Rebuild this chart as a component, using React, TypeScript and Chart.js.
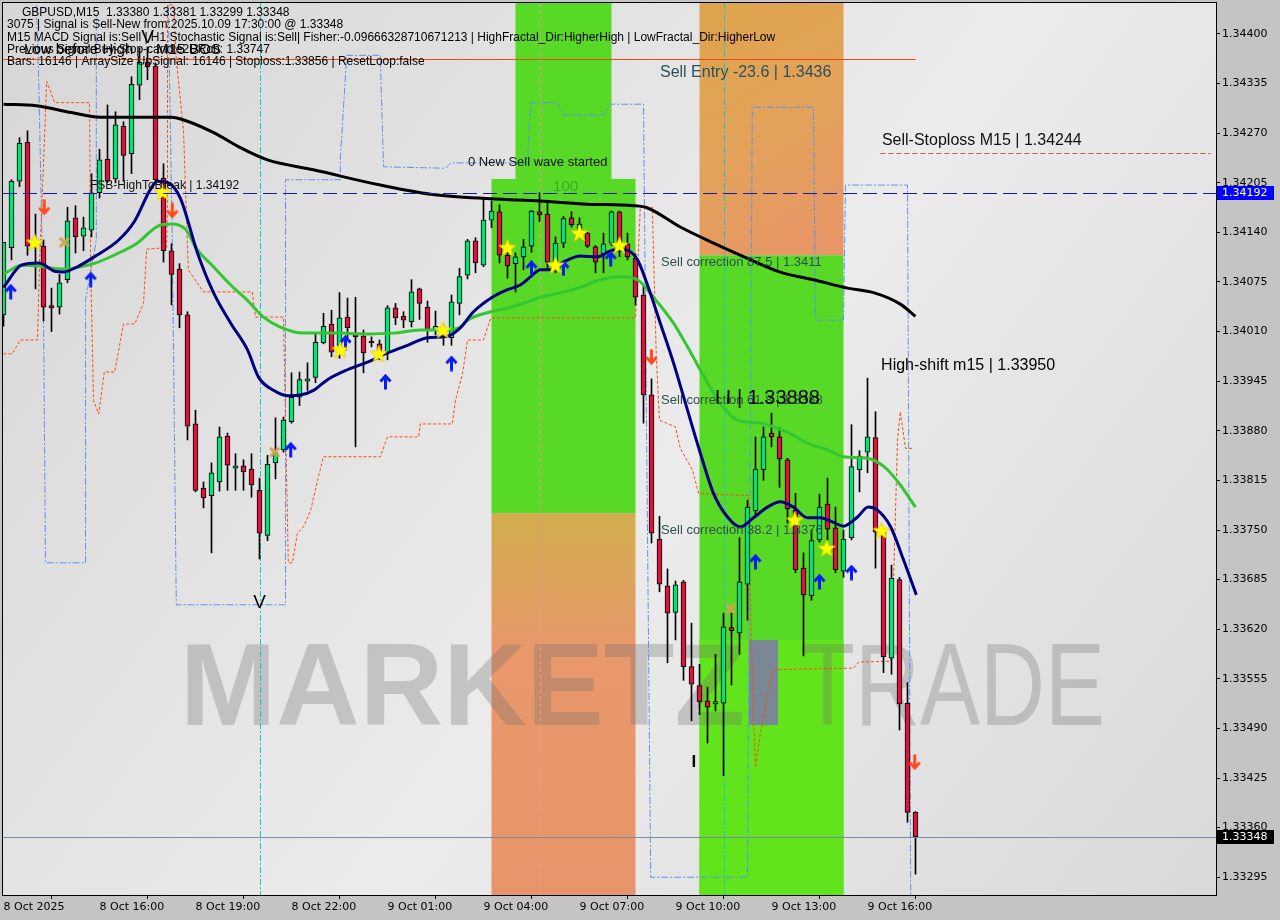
import React, { useEffect, useRef } from "react";
import { Chart, registerables } from "chart.js";

Chart.register(...registerables);

// ---------------- axes ----------------
const timeLabels = ["8 Oct 2025", "8 Oct 16:00", "8 Oct 19:00", "8 Oct 22:00", "9 Oct 01:00", "9 Oct 04:00", "9 Oct 07:00", "9 Oct 10:00", "9 Oct 13:00", "9 Oct 16:00"];
const timeTickBars = [0, 12, 24, 36, 48, 60, 72, 84, 96, 108];
const priceTicks = [1.344, 1.34335, 1.3427, 1.34205, 1.3414, 1.34075, 1.3401, 1.33945, 1.3388, 1.33815, 1.3375, 1.33685, 1.3362, 1.33555, 1.3349, 1.33425, 1.3336, 1.33295];
const Y_MIN = 1.332717;
const Y_MAX = 1.344406;
const X_MIN = -0.0625;
const X_MAX = 151.5625;

// ---------------- candles (M15, bar 0 = 8 Oct 13:00) ----------------
const opens = [
  1.34032, 1.3412, 1.34207, 1.34258, 1.34123, 1.34122, 1.34044, 1.34042, 1.34078, 1.34159,
  1.34135, 1.34143, 1.34192, 1.34236, 1.3421, 1.34279, 1.34243, 1.34333, 1.34363, 1.34358,
  1.34211, 1.34116, 1.34092, 1.34032, 1.33889, 1.33805, 1.33795, 1.33813, 1.33873, 1.33831,
  1.33834, 1.3383, 1.33802, 1.33743, 1.33838, 1.33855, 1.33892, 1.33924, 1.33945, 1.3395,
  1.33995, 1.3402, 1.33992, 1.34029, 1.34006, 1.34004, 1.33996, 1.33994, 1.33982, 1.34041,
  1.3403, 1.34023, 1.34066, 1.34042, 1.34012, 1.34012, 1.34002, 1.34047, 1.34084, 1.34129,
  1.34097, 1.34156, 1.34167, 1.3411, 1.34099, 1.34108, 1.34122, 1.34167, 1.34164, 1.34101,
  1.34126, 1.34159, 1.3414, 1.34139, 1.34121, 1.34112, 1.34126, 1.34167, 1.34125, 1.34106,
  1.34058, 1.33927, 1.33738, 1.33677, 1.33642, 1.33682, 1.33571, 1.33546, 1.33526, 1.33522,
  1.33523, 1.33622, 1.33615, 1.33679, 1.33775, 1.33829, 1.33877, 1.33872, 1.33842, 1.33776,
  1.337, 1.33664, 1.33737, 1.33784, 1.33753, 1.33696, 1.3374, 1.33829, 1.33852, 1.33871,
  1.33747, 1.33582, 1.33685, 1.33523, 1.3338,
];
const highs = [
  1.34127, 1.34209, 1.34264, 1.34273, 1.34164, 1.3413, 1.34067, 1.34085, 1.34173, 1.34175,
  1.3416, 1.34217, 1.34249, 1.34307, 1.34298, 1.34285, 1.34344, 1.34382, 1.34383, 1.34362,
  1.3423, 1.34125, 1.34099, 1.34036, 1.33907, 1.33813, 1.33838, 1.33885, 1.33877, 1.3385,
  1.33842, 1.3385, 1.33818, 1.33848, 1.33897, 1.33898, 1.33956, 1.33957, 1.33969, 1.34008,
  1.34034, 1.34038, 1.34061, 1.34054, 1.34055, 1.34012, 1.34003, 1.33999, 1.34044, 1.34047,
  1.34036, 1.34078, 1.34067, 1.3405, 1.34037, 1.34019, 1.34058, 1.34093, 1.34131, 1.34133,
  1.34186, 1.34181, 1.34176, 1.34127, 1.34113, 1.34131, 1.34169, 1.34192, 1.34182, 1.34134,
  1.34161, 1.34167, 1.34159, 1.3414, 1.34123, 1.34139, 1.34168, 1.34168, 1.34139, 1.34112,
  1.34071, 1.33948, 1.33768, 1.33699, 1.33683, 1.33684, 1.33628, 1.33574, 1.33544, 1.33587,
  1.33641, 1.33641, 1.3374, 1.33789, 1.33872, 1.33885, 1.33903, 1.33884, 1.33844, 1.33798,
  1.3372, 1.3375, 1.33797, 1.33818, 1.3378, 1.3375, 1.33888, 1.33854, 1.33949, 1.33905,
  1.3375, 1.33704, 1.33688, 1.3355, 1.33381,
];
const lows = [
  1.34017, 1.34104, 1.342, 1.3411, 1.34066, 1.34024, 1.3401, 1.34033, 1.34074, 1.34113,
  1.34116, 1.34134, 1.34185, 1.34205, 1.34205, 1.34207, 1.34217, 1.34314, 1.3434, 1.34205,
  1.34101, 1.34045, 1.34015, 1.33868, 1.338, 1.33779, 1.3372, 1.33801, 1.33802, 1.33802,
  1.33802, 1.33793, 1.33712, 1.33736, 1.33817, 1.33852, 1.3389, 1.33913, 1.33933, 1.33943,
  1.33994, 1.33977, 1.33975, 1.34002, 1.33859, 1.33956, 1.3399, 1.33973, 1.33973, 1.34019,
  1.34015, 1.34016, 1.34026, 1.33996, 1.34006, 1.33992, 1.33992, 1.34032, 1.34079, 1.34087,
  1.34095, 1.34146, 1.341, 1.3408, 1.34062, 1.34091, 1.34114, 1.34154, 1.34091, 1.34087,
  1.3412, 1.34147, 1.34133, 1.3412, 1.34087, 1.34087, 1.34123, 1.34108, 1.34104, 1.34045,
  1.3389, 1.33733, 1.33669, 1.33576, 1.33606, 1.33553, 1.335, 1.33508, 1.33471, 1.33513,
  1.33428, 1.33547, 1.33587, 1.33632, 1.33767, 1.33815, 1.33859, 1.33806, 1.33759, 1.33694,
  1.33585, 1.33658, 1.33734, 1.33737, 1.33694, 1.33688, 1.33737, 1.338, 1.33825, 1.337,
  1.33563, 1.33561, 1.33488, 1.33367, 1.33299,
];
const closes = [
  1.34127, 1.34207, 1.34257, 1.34122, 1.3413, 1.34042, 1.34041, 1.34074, 1.34155, 1.34134,
  1.34146, 1.34192, 1.34235, 1.34207, 1.34281, 1.34241, 1.34334, 1.34363, 1.34357, 1.34209,
  1.34116, 1.34085, 1.34032, 1.33886, 1.33802, 1.33792, 1.33825, 1.33872, 1.33835, 1.33834,
  1.33826, 1.33809, 1.33746, 1.33836, 1.33851, 1.33894, 1.33924, 1.33947, 1.33948, 1.33996,
  1.34017, 1.33983, 1.34028, 1.34015, 1.34003, 1.33982, 1.33995, 1.33983, 1.34041, 1.34028,
  1.34025, 1.34062, 1.34047, 1.34013, 1.34017, 1.34003, 1.34049, 1.34082, 1.34129, 1.341,
  1.34156, 1.34168, 1.3411, 1.34096, 1.34108, 1.34121, 1.34168, 1.34163, 1.34101, 1.34126,
  1.34158, 1.3415, 1.34151, 1.34122, 1.34101, 1.34125, 1.34167, 1.3412, 1.34108, 1.34055,
  1.33927, 1.33746, 1.33679, 1.33641, 1.33678, 1.33571, 1.33548, 1.33525, 1.33518, 1.33525,
  1.33623, 1.33618, 1.33682, 1.3378, 1.3383, 1.33872, 1.33872, 1.33843, 1.33778, 1.33698,
  1.33665, 1.33736, 1.3378, 1.33751, 1.33698, 1.33738, 1.33833, 1.33847, 1.33872, 1.33747,
  1.33584, 1.33687, 1.33522, 1.3338, 1.33348,
];

// ---------------- indicator lines: [bar, price] ----------------
const maSlow = [
  [0, 1.34308], [4.1, 1.34306], [8.5, 1.34297], [12.1, 1.34291], [17.5, 1.34291], [21, 1.34291],
  [22.9, 1.34286], [26.4, 1.3427], [29.6, 1.34251], [33, 1.34235], [38.75, 1.34222], [47.1, 1.34202],
  [53.4, 1.3419], [60.9, 1.34184], [67.1, 1.34181], [73, 1.34177], [78.75, 1.34175], [80.5, 1.34172],
  [84.6, 1.34147], [88.75, 1.34126], [93, 1.34106], [97.1, 1.34088], [101.25, 1.34078], [105.5, 1.34067],
  [108.75, 1.34061], [112.1, 1.34046], [114, 1.3403],
];
const maFast = [
  [0, 1.34068], [2.25, 1.34097], [4.4, 1.341], [6.4, 1.34089], [7.4, 1.34088], [9.25, 1.34095],
  [11.5, 1.34109], [14.4, 1.3413], [16.4, 1.34155], [18.4, 1.34197], [19.25, 1.34207], [20.6, 1.34205],
  [22.1, 1.34185], [24.25, 1.34113], [26.25, 1.34061], [28.4, 1.34021], [30.5, 1.33986], [31.9, 1.3395],
  [33.75, 1.33933], [35.5, 1.33926], [37.1, 1.33927], [38.75, 1.33933], [40.5, 1.33947], [43, 1.3396],
  [45.5, 1.3397], [48, 1.33982], [50.5, 1.33992], [53, 1.34002], [55.5, 1.34004], [57.1, 1.34015],
  [58.75, 1.34036], [61.1, 1.34055], [63, 1.34065], [64.6, 1.34071], [65.9, 1.34082], [67.1, 1.34091],
  [68.4, 1.34091], [70, 1.34101], [72.1, 1.34109], [74.25, 1.34108], [76.25, 1.34117], [77.75, 1.34117],
  [79.25, 1.34104], [80.5, 1.34071], [82.1, 1.34021], [83.75, 1.33969], [85.5, 1.33907], [87.1, 1.33851],
  [88.75, 1.33798], [90.5, 1.33767], [92.1, 1.33754], [93.75, 1.33766], [95.5, 1.3378], [97.1, 1.33787],
  [98.75, 1.3378], [100.5, 1.33766], [102.1, 1.33766], [103.75, 1.3376], [105, 1.33755], [106.75, 1.33767],
  [108.1, 1.3378], [109.25, 1.33776], [110.9, 1.33754], [112.5, 1.33711], [114.1, 1.33665],
];
const maMid = [
  [0, 1.34085], [2.25, 1.34097], [4.4, 1.34096], [7.4, 1.34092], [11.25, 1.34099], [14.4, 1.34113],
  [16.6, 1.34125], [19.25, 1.34148], [21, 1.34151], [22.75, 1.34144], [24.25, 1.34117], [26.25, 1.34095],
  [28.4, 1.34071], [30.5, 1.34051], [32.5, 1.34029], [34.6, 1.34016], [37.5, 1.34008], [40.9, 1.34008],
  [45.5, 1.34007], [48.75, 1.34008], [52.1, 1.34012], [55, 1.34012], [57.1, 1.34016], [58, 1.34025],
  [60.9, 1.34036], [63, 1.34041], [65.5, 1.34049], [67.1, 1.34055], [69.6, 1.34061], [72.1, 1.34068],
  [74.6, 1.34078], [77.1, 1.34082], [79.25, 1.34078], [81.25, 1.34055], [83.75, 1.34021], [85.5, 1.3399],
  [88, 1.33943], [89.6, 1.33916], [91.75, 1.33894], [94.6, 1.3389], [98, 1.33878], [100.5, 1.33864],
  [103, 1.33855], [105, 1.33846], [108, 1.33844], [109.25, 1.33839], [110.5, 1.33829], [112.1, 1.33809],
  [114, 1.3378],
];
const stepLine = [
  [0, 1.33981], [1.1, 1.33981], [2.1, 1.33999], [4.25, 1.33999], [4.5, 1.34099], [5, 1.3423], [5.4, 1.34338],
  [6.4, 1.3431], [10.75, 1.3431], [10.9, 1.34095], [11.25, 1.3392], [11.9, 1.33902], [12.6, 1.33957],
  [13.9, 1.33957], [15, 1.3402], [16.4, 1.3402], [17.5, 1.34047], [17.9, 1.34118], [20.4, 1.3412],
  [20.5, 1.34184], [20.5, 1.34438], [21.25, 1.34438], [21.6, 1.34366], [22.5, 1.34274], [23.1, 1.34091],
  [25, 1.34062], [31.1, 1.34062], [31.5, 1.34029], [35, 1.34029], [35.6, 1.33707], [36.1, 1.33707],
  [36.75, 1.33746], [37.5, 1.33754], [38.4, 1.33776], [39.25, 1.33815], [40, 1.33846], [47.1, 1.33846],
  [48, 1.33872], [51.9, 1.33872], [52.1, 1.33889], [56.1, 1.33889], [56.5, 1.3392], [57.4, 1.33956],
  [58, 1.33999], [60, 1.33999], [60.9, 1.34028], [79, 1.34028], [79.6, 1.34173], [81.1, 1.34173],
  [81.6, 1.33977], [82, 1.33894], [84, 1.33885], [84.6, 1.33857], [86.1, 1.33829], [86.9, 1.33798],
  [93.1, 1.33795], [93.4, 1.33636], [93.75, 1.33505], [94, 1.33439], [94.6, 1.33484], [95.25, 1.33518],
  [96.1, 1.33567], [106.25, 1.33569], [106.9, 1.33577], [110.9, 1.33578], [111.25, 1.33681],
  [111.75, 1.33868], [112.1, 1.33905], [112.75, 1.33857], [113.6, 1.33857],
];
const channelLeft = [
  [4.1, 1.34438], [4.4, 1.3434], [5, 1.34038], [5.25, 1.33707], [10.25, 1.33707], [10.25, 1.34051],
  [11.6, 1.3413], [11.6, 1.34425],
];
const channelMain = [
  [20.6, 1.34438], [21.1, 1.3413], [21.6, 1.33652], [35.25, 1.33652], [35.25, 1.34209], [42.1, 1.34209],
  [42.1, 1.34235], [42.9, 1.34372], [47.1, 1.34372], [47.5, 1.34226], [55.25, 1.34224], [55.9, 1.34231],
  [65.5, 1.34231], [65.9, 1.3431], [69.1, 1.3431], [70, 1.34294], [75, 1.34294], [76, 1.34308],
  [80, 1.34308], [80.9, 1.33295], [93, 1.33295], [93.6, 1.34304], [101.25, 1.34304], [101.5, 1.34025],
  [105, 1.34025], [105.25, 1.34202], [113, 1.34202], [113.4, 1.33272],
];

// ---------------- signal markers: [bar, price] ----------------
const starMarks = [
  [3.9, 1.34127], [19.9, 1.34193], [42.1, 1.33986], [46.9, 1.33981], [54.9, 1.34012], [63, 1.3412],
  [69, 1.34097], [72, 1.34139], [77, 1.34123], [98.9, 1.33763], [102.9, 1.33726], [109.75, 1.33749],
];
const upArrows = [
  [0.9, 1.34062], [10.9, 1.34078], [35.9, 1.33855], [42.75, 1.33995], [47.75, 1.33944], [56, 1.33968],
  [66, 1.34093], [70, 1.34093], [75.9, 1.34105], [94, 1.33708], [102, 1.33682], [106, 1.33694],
];
const downArrows = [[5.1, 1.34173], [21.1, 1.34169], [81, 1.33977], [113.9, 1.33446]];
const crossMarks = [[7.6, 1.34127], [33.9, 1.33852], [90.9, 1.33647]];

// ---------------- zones: [barFrom, barTo, priceLow, priceHigh] ----------------
const zoneBuyTop = [64, 76, 1.3421, 1.345];
const zoneBuyMain = [61, 79, 1.33772, 1.3421];
const zoneSellLow = [61, 79, 1.332, 1.33772];
const zoneSellTop = [87, 105, 1.3411, 1.345];
const zoneBuyRight = [87, 105, 1.332, 1.3411];
const zoneBuyRightLow = [87, 105, 1.332, 1.33606];

// ---------------- levels ----------------
const sellEntryLevel = 1.34367;
const stoplossLevel = 1.34244;
const fsbLevel = 1.34192;
const lastPrice = 1.33348;
const timeMarkers = [32, 90];
const centerMarker = 67;

// ---------------- chart texts: [bar, price] ----------------
const chartTexts = [
  { t: "0 New Sell wave started", i: 58.06, p: 1.34232, f: "13px 'Liberation Sans'", c: "#111" },
  { t: "FSB-HighToBreak | 1.34192", i: 10.8, p: 1.34201, f: "12px 'Liberation Sans'", c: "#111" },
  { t: "Sell Entry -23.6 | 1.3436", i: 82.06, p: 1.34349, f: "16px 'Liberation Sans'", c: "#2f4f5f" },
  { t: "Sell-Stoploss M15 | 1.34244", i: 109.8, p: 1.3426, f: "16px 'Liberation Sans'", c: "#111" },
  { t: "Sell correction 87.5 | 1.3411", i: 82.2, p: 1.341, f: "13px 'Liberation Sans'", c: "#2f4f4f" },
  { t: "Sell correction 61.8 | 1.3388", i: 82.2, p: 1.3392, f: "13px 'Liberation Sans'", c: "#2f4f4f" },
  { t: "Sell correction 38.2 | 1.3376", i: 82.2, p: 1.3375, f: "13px 'Liberation Sans'", c: "#2f4f4f" },
  { t: "I I | 1.33888", i: 88.9, p: 1.33923, f: "20px 'Liberation Sans'", c: "#000" },
  { t: "High-shift m15 | 1.33950", i: 109.7, p: 1.33966, f: "16px 'Liberation Sans'", c: "#000" },
  { t: "100", i: 68.7, p: 1.342, f: "15px 'Liberation Sans'", c: "rgba(40,150,40,0.65)" },
  { t: "I", i: 86.0, p: 1.33445, f: "bold 17px 'Liberation Sans'", c: "#000" },
];
const swingMarks = [[32, 1.33654], [18, 1.34395]];

const headerLines = [
  "3075 | Signal is Sell-New from:2025.10.09 17:30:00 @ 1.33348",
  "M15 MACD Signal is:Sell | H1 Stochastic Signal is:Sell| Fisher:-0.09666328710671213 | HighFractal_Dir:HigherHigh | LowFractal_Dir:HigherLow",
  "Previous Signal:Buy-Stop-candle2DRob: 1.33747",
  "Bars: 16146 | ArraySize UpSignal: 16146 | Stoploss:1.33856 | ResetLoop:false",
];
const headerTitle = "GBPUSD,M15  1.33380 1.33381 1.33299 1.33348";

const BULL = "#00e676";
const BEAR = "#dc143c";

function makeIcon(w: number, h: number, draw: (g: CanvasRenderingContext2D) => void) {
  const c = document.createElement("canvas");
  c.width = w;
  c.height = h;
  const g = c.getContext("2d") as CanvasRenderingContext2D;
  draw(g);
  return c;
}

const pts = (arr: number[][]) => arr.map(([x, y]) => ({ x, y }));

const mt4Plugin = {
  id: "mt4look",
  beforeDraw(chart: any) {
    const { ctx, chartArea: a, scales } = chart;
    const xs = scales.x;
    const ys = scales.y;
    ctx.save();
    ctx.fillStyle = "#c4c4c4";
    ctx.fillRect(0, 0, chart.width, chart.height);
    const bg = ctx.createLinearGradient(a.left, a.top, a.right, a.bottom);
    bg.addColorStop(0, "#d6d6d6");
    bg.addColorStop(0.55, "#ebebeb");
    bg.addColorStop(1, "#d9d9d9");
    ctx.fillStyle = bg;
    ctx.fillRect(a.left, a.top, a.right - a.left, a.bottom - a.top);
    ctx.beginPath();
    ctx.rect(a.left, a.top, a.right - a.left, a.bottom - a.top);
    ctx.clip();

    const box = (z: number[], fill: any) => {
      const x0 = xs.getPixelForValue(z[0]);
      const x1 = xs.getPixelForValue(z[1]);
      const y0 = ys.getPixelForValue(z[3]);
      const y1 = ys.getPixelForValue(z[2]);
      ctx.fillStyle = fill;
      ctx.fillRect(x0, y0, x1 - x0, y1 - y0);
    };
    box(zoneBuyTop, "#58d926");
    box(zoneBuyMain, "#58d926");
    const sl = zoneSellLow;
    const ytop = ys.getPixelForValue(sl[3]);
    const og = ctx.createLinearGradient(0, ytop, 0, a.bottom);
    og.addColorStop(0, "#d2ad4e");
    og.addColorStop(0.35, "#e8986a");
    og.addColorStop(1, "#e8946a");
    box(sl, og);
    const st = zoneSellTop;
    const og2 = ctx.createLinearGradient(xs.getPixelForValue(st[0]), a.top, xs.getPixelForValue(st[1]), ys.getPixelForValue(st[2]));
    og2.addColorStop(0, "#dea44c");
    og2.addColorStop(0.5, "#e3a25a");
    og2.addColorStop(1, "#e89468");
    box(st, og2);
    box(zoneBuyRight, "#58d926");
    box(zoneBuyRightLow, "#62e41c");

    // watermark
    ctx.fillStyle = "rgba(110,110,110,0.3)";
    ctx.textBaseline = "alphabetic";
    ctx.textAlign = "left";
    ctx.font = "bold 116px 'Liberation Sans'";
    ctx.fillText("MARKETZ", 180, 725, 565);
    ctx.fillStyle = "#7a8896";
    ctx.fillRect(749, 640, 29, 85);
    ctx.fillStyle = "rgba(110,110,110,0.3)";
    ctx.font = "116px 'Liberation Sans'";
    ctx.fillText("TRADE", 800, 725, 305);

    // vertical time markers
    ctx.lineWidth = 1;
    ctx.strokeStyle = "#10c8d0";
    ctx.setLineDash([6, 2, 2, 2]);
    timeMarkers.forEach((m) => {
      const px = Math.round(xs.getPixelForValue(m)) + 0.5;
      ctx.beginPath();
      ctx.moveTo(px, a.top);
      ctx.lineTo(px, a.bottom);
      ctx.stroke();
    });
    ctx.strokeStyle = "#e49a9a";
    ctx.setLineDash([4, 3]);
    const cx = Math.round(xs.getPixelForValue(centerMarker)) + 0.5;
    ctx.beginPath();
    ctx.moveTo(cx, a.top);
    ctx.lineTo(cx, a.bottom);
    ctx.stroke();
    ctx.restore();
  },
  afterDatasetsDraw(chart: any) {
    const { ctx, chartArea: a, scales } = chart;
    const xs = scales.x;
    const ys = scales.y;
    ctx.save();
    ctx.beginPath();
    ctx.rect(a.left, a.top, a.right - a.left, a.bottom - a.top);
    ctx.clip();
    const hline = (p: number, x0: number, x1: number, color: string, dash: number[]) => {
      const py = Math.round(ys.getPixelForValue(p)) + 0.5;
      ctx.strokeStyle = color;
      ctx.lineWidth = 1;
      ctx.setLineDash(dash);
      ctx.beginPath();
      ctx.moveTo(x0, py);
      ctx.lineTo(x1, py);
      ctx.stroke();
    };
    hline(sellEntryLevel, a.left, xs.getPixelForValue(114), "#f04a10", []);
    hline(stoplossLevel, xs.getPixelForValue(109.6), xs.getPixelForValue(150.9), "#c85a40", [5, 3]);
    hline(fsbLevel, a.left, a.right, "#1a1aa8", [14, 6]);
    hline(lastPrice, a.left, a.right, "#7a8ca2", []);
    ctx.setLineDash([]);

    ctx.textBaseline = "middle";
    ctx.textAlign = "left";
    chartTexts.forEach((o) => {
      ctx.font = o.f;
      ctx.fillStyle = o.c;
      ctx.fillText(o.t, xs.getPixelForValue(o.i), ys.getPixelForValue(o.p));
    });
    ctx.textAlign = "center";
    ctx.font = "19px 'Liberation Sans'";
    ctx.fillStyle = "#000";
    swingMarks.forEach(([i, p]) => ctx.fillText("V", xs.getPixelForValue(i), ys.getPixelForValue(p)));
    ctx.restore();
  },
  afterDraw(chart: any) {
    const { ctx, chartArea: a, scales } = chart;
    const ys = scales.y;
    ctx.save();
    // frame
    ctx.strokeStyle = "#000";
    ctx.lineWidth = 1;
    ctx.strokeRect(a.left - 0.5, a.top - 0.5, a.right - a.left + 1, a.bottom - a.top + 1);

    // header text
    ctx.textBaseline = "middle";
    ctx.textAlign = "left";
    ctx.fillStyle = "#000";
    ctx.font = "12px 'Liberation Sans'";
    ctx.fillText(headerTitle, 22, 12.5);
    headerLines.forEach((l, k) => ctx.fillText(l, 7, 25 + k * 12.3));
    ctx.font = "15px 'Liberation Sans'";
    ctx.fillText("Low before High", 24, 50);
    ctx.fillText("M15 BOS", 156, 50);

    // price tags
    const tag = (p: number, bgc: string) => {
      const py = Math.round(ys.getPixelForValue(p));
      ctx.fillStyle = bgc;
      ctx.fillRect(a.right + 1, py - 7, 57, 14);
      ctx.fillStyle = "#fff";
      ctx.font = "11px 'DejaVu Sans'";
      ctx.fillText(p.toFixed(5), a.right + 6, py + 0.5);
    };
    tag(fsbLevel, "#0000ff");
    tag(lastPrice, "#000000");
    ctx.restore();
  },
};

export default function App() {
  const ref = useRef<HTMLCanvasElement | null>(null);
  useEffect(() => {
    const canvas = ref.current;
    if (!canvas) return;
    const star = makeIcon(19, 19, (g) => {
      g.beginPath();
      for (let k = 0; k < 10; k++) {
        const r = k % 2 === 0 ? 9 : 3.8;
        const ang = -Math.PI / 2 + (k * Math.PI) / 5;
        g.lineTo(9.5 + r * Math.cos(ang), 10 + r * Math.sin(ang));
      }
      g.closePath();
      g.fillStyle = "#ffff00";
      g.fill();
      g.strokeStyle = "#e8cc00";
      g.lineWidth = 0.8;
      g.stroke();
    });
    const arrowUp = makeIcon(13, 16, (g) => {
      g.strokeStyle = "#0a1cf0";
      g.lineWidth = 3;
      g.beginPath();
      g.moveTo(6.5, 15.5);
      g.lineTo(6.5, 3);
      g.stroke();
      g.beginPath();
      g.moveTo(1.5, 7.5);
      g.lineTo(6.5, 2);
      g.lineTo(11.5, 7.5);
      g.stroke();
    });
    const arrowDown = makeIcon(13, 16, (g) => {
      g.strokeStyle = "#ff4a1c";
      g.lineWidth = 3;
      g.beginPath();
      g.moveTo(6.5, 0.5);
      g.lineTo(6.5, 13);
      g.stroke();
      g.beginPath();
      g.moveTo(1.5, 8.5);
      g.lineTo(6.5, 14);
      g.lineTo(11.5, 8.5);
      g.stroke();
    });
    const cross = makeIcon(13, 13, (g) => {
      g.strokeStyle = "#d2a24e";
      g.lineWidth = 3;
      g.beginPath();
      g.moveTo(2, 2);
      g.lineTo(11, 11);
      g.moveTo(11, 2);
      g.lineTo(2, 11);
      g.stroke();
    });

    const idx = opens.map((_, i) => i);
    const wickData = idx.map((i) => ({ x: i, y: [lows[i], highs[i]] }));
    const bodyData = idx.map((i) => ({ x: i, y: [opens[i], closes[i]] }));
    const bodyColors = idx.map((i) => (closes[i] >= opens[i] ? BULL : BEAR));

    const lineDs = (data: number[][], color: string, width: number, order: number, dash: number[] = [], tension = 0.35) => ({
      type: "line",
      data: pts(data),
      borderColor: color,
      borderWidth: width,
      borderDash: dash,
      pointRadius: 0,
      tension,
      cubicInterpolationMode: tension > 0 ? "monotone" : "default",
      fill: false,
      order,
    });
    const markerDs = (data: number[][], icon: HTMLCanvasElement, order: number) => ({
      type: "scatter",
      data: pts(data),
      pointStyle: icon,
      pointRadius: 6,
      showLine: false,
      order,
    });

    const chart = new Chart(canvas, {
      type: "bar",
      data: {
        datasets: [
          markerDs(starMarks, star, 0),
          markerDs(upArrows, arrowUp, 0),
          markerDs(downArrows, arrowDown, 0),
          markerDs(crossMarks, cross, 0),
          lineDs(maFast, "#000080", 3, 2),
          lineDs(maMid, "#33c633", 3, 3),
          lineDs(maSlow, "#000000", 3, 4),
          {
            type: "bar",
            data: bodyData,
            backgroundColor: bodyColors,
            borderColor: "#000",
            borderWidth: 1,
            borderSkipped: false,
            barThickness: 5,
            minBarLength: 2,
            grouped: false,
            order: 5,
          },
          {
            type: "bar",
            data: wickData,
            backgroundColor: "#000",
            borderWidth: 0,
            barThickness: 1,
            grouped: false,
            order: 6,
          },
          lineDs(stepLine, "#ff4a10", 1, 7, [3, 2], 0),
          lineDs(channelLeft, "#5a94ee", 1, 8, [7, 2, 2, 2], 0),
          lineDs(channelMain, "#5a94ee", 1, 8, [7, 2, 2, 2], 0),
        ] as any,
      },
      options: {
        responsive: false,
        maintainAspectRatio: false,
        devicePixelRatio: 1,
        animation: false,
        events: [],
        layout: { autoPadding: false, padding: { left: 3, top: 3, right: 0, bottom: 0 } },
        plugins: { legend: { display: false }, tooltip: { enabled: false } },
        scales: {
          x: {
            type: "linear",
            min: X_MIN,
            max: X_MAX,
            offset: false,
            afterBuildTicks: (s: any) => {
              s.ticks = timeTickBars.map((v) => ({ value: v }));
            },
            afterFit: (s: any) => {
              s.height = 25;
              s.paddingLeft = 0;
              s.paddingRight = 0;
            },
            ticks: {
              autoSkip: false,
              maxRotation: 0,
              minRotation: 0,
              align: "start",
              padding: 2,
              color: "#000",
              font: { family: "'DejaVu Sans'", size: 11 },
              callback: (v: any) => {
                const k = timeTickBars.indexOf(Number(v));
                return k >= 0 ? timeLabels[k] : "";
              },
            },
            grid: { drawOnChartArea: false, drawTicks: true, tickLength: 4, color: "#000" },
            border: { display: false },
          },
          y: {
            type: "linear",
            position: "right",
            min: Y_MIN,
            max: Y_MAX,
            afterBuildTicks: (s: any) => {
              s.ticks = priceTicks.map((v) => ({ value: v }));
            },
            afterFit: (s: any) => {
              s.width = 64;
              s.paddingTop = 0;
              s.paddingBottom = 0;
            },
            ticks: {
              autoSkip: false,
              padding: 2,
              color: "#000",
              font: { family: "'DejaVu Sans'", size: 11 },
              callback: (v: any) => Number(v).toFixed(5),
            },
            grid: { drawOnChartArea: false, drawTicks: true, tickLength: 4, color: "#000" },
            border: { display: false },
          },
        },
      } as any,
      plugins: [mt4Plugin],
    });
    return () => chart.destroy();
  }, []);

  return (
    <div style={{ position: "absolute", left: 0, top: 0, width: 1280, height: 920 }}>
      <canvas ref={ref} width={1280} height={920} style={{ display: "block", width: 1280, height: 920 }} />
    </div>
  );
}
